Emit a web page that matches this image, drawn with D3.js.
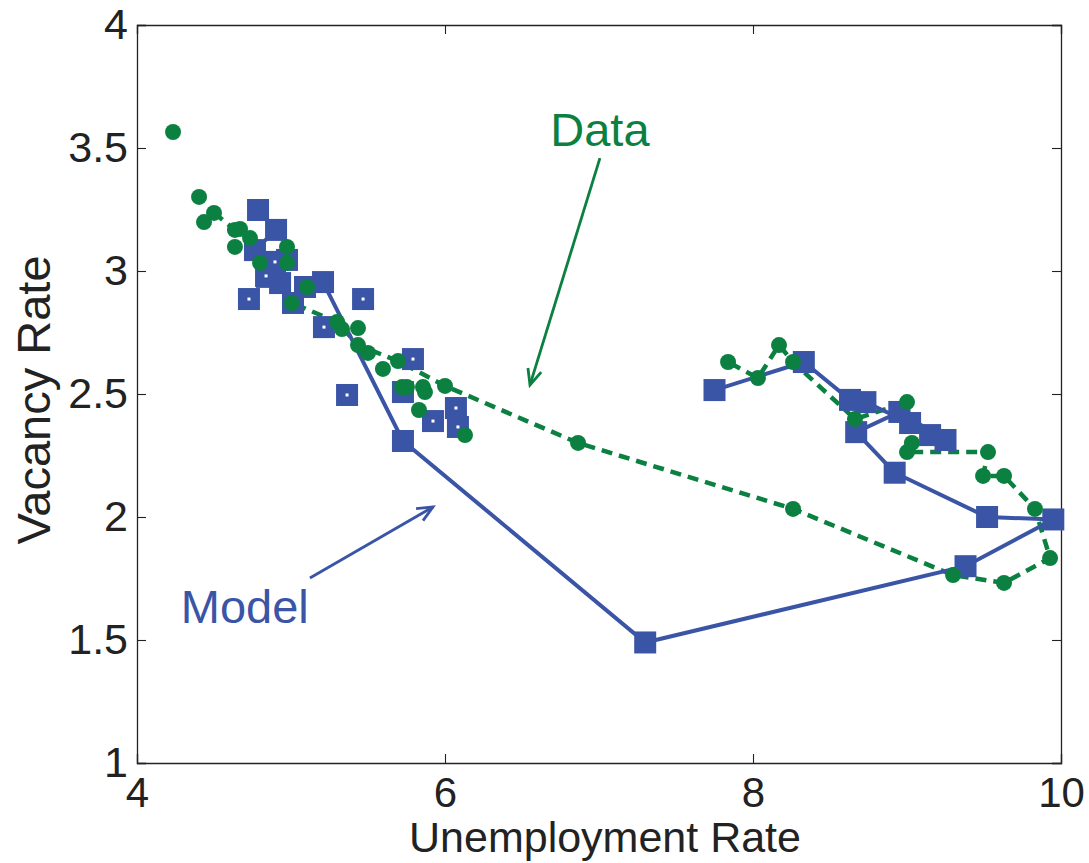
<!DOCTYPE html>
<html lang="en">
<head>
<meta charset="UTF-8">
<title>Vacancy vs Unemployment</title>
<script src="https://d3js.org/d3.v7.min.js"></script>
<style>
  body { margin: 0; background: #fff; }
  svg { font-family: "Liberation Sans", Arial, sans-serif; }
</style>
</head>
<body>
<script>
// data (unemployment, vacancy)
const modelPath = [
  [4.786, 3.248], [4.903, 3.167], [4.766, 3.085], [4.974, 3.045], [4.844, 2.976],
  [4.929, 2.951], [5.013, 2.870], [5.091, 2.935], [5.208, 2.955], [5.727, 2.309],
  [7.30, 1.490], [9.38, 1.800], [9.95, 1.990], [9.52, 2.000], [8.92, 2.180],
  [8.67, 2.345], [8.95, 2.427], [9.25, 2.313], [9.15, 2.333], [9.02, 2.382],
  [8.73, 2.467], [8.63, 2.476], [8.33, 2.630], [7.75, 2.516]
];
const modelLoose = [
  [4.727, 2.886], [5.468, 2.886], [5.214, 2.772], [5.364, 2.496], [5.792, 2.642],
  [5.922, 2.390], [6.071, 2.443], [6.084, 2.366], [5.727, 2.508], [4.896, 3.037],
  [4.838, 2.980]
];
const dataPath = [
  [4.500, 3.236], [4.636, 3.167], [4.734, 3.134], [4.799, 3.033], [5.006, 2.870],
  [5.299, 2.793], [5.435, 2.699], [5.695, 2.634], [6.000, 2.533], [6.864, 2.301],
  [8.260, 2.033], [9.299, 1.764], [9.630, 1.732], [9.929, 1.833], [9.831, 2.033],
  [9.630, 2.167], [9.494, 2.167], [9.526, 2.264], [9.000, 2.264], [9.032, 2.301],
  [9.000, 2.467], [8.662, 2.398], [8.260, 2.630], [8.169, 2.699], [8.032, 2.565],
  [7.838, 2.630]
];
const dataLoose = [
  [4.234, 3.565], [4.403, 3.301], [4.435, 3.199], [4.669, 3.171], [4.636, 3.098],
  [4.974, 3.098], [4.974, 3.033], [5.104, 2.935], [5.331, 2.764], [5.435, 2.768],
  [5.500, 2.667], [5.597, 2.602], [5.721, 2.528], [5.753, 2.528], [5.857, 2.528],
  [5.870, 2.508], [5.831, 2.435], [6.130, 2.333]
];
const xTicks = [4, 6, 8, 10];
const yTicks = [1, 1.5, 2, 2.5, 3, 3.5, 4];

const blue = "#3b55a6", green = "#0b8040";
const W = 1089, H = 863;
const margin = {top: 25, right: 28, bottom: 100, left: 137};

const svg = d3.select("body").append("svg").attr("width", W).attr("height", H);

const x = d3.scaleLinear().domain([4, 10]).range([margin.left, W - margin.right]);
const y = d3.scaleLinear().domain([1, 4]).range([H - margin.bottom, margin.top]);

// axes (ticks inside, box all round)
const tk = 9;
svg.append("g").attr("class", "xax").attr("transform", `translate(0,${y(1)})`)
  .call(d3.axisBottom(x).tickValues(xTicks).tickSize(-tk).tickPadding(14).tickFormat(d3.format("d")));
svg.append("g").attr("transform", `translate(0,${y(4)})`)
  .call(d3.axisTop(x).tickValues(xTicks).tickSize(-tk).tickFormat(""));
svg.append("g").attr("transform", `translate(${x(4)},0)`)
  .call(d3.axisLeft(y).tickValues(yTicks).tickSize(-tk).tickPadding(9).tickFormat(d => d3.format("")(d)));
svg.append("g").attr("transform", `translate(${x(10)},0)`)
  .call(d3.axisRight(y).tickValues(yTicks).tickSize(-tk).tickFormat(""));
svg.selectAll(".domain").attr("stroke", "#222").attr("stroke-width", 1.3);
svg.selectAll(".tick line").attr("stroke", "#222").attr("stroke-width", 1.1);
svg.selectAll(".tick text").attr("font-size", 43).attr("fill", "#222")
  .attr("font-family", "Liberation Sans, Arial, sans-serif");
svg.selectAll(".xax .tick text").attr("font-size", 42);

const line = d3.line().x(d => x(d[0])).y(d => y(d[1]));

// data series
svg.append("path").datum(dataPath).attr("d", line)
  .attr("fill", "none").attr("stroke", green).attr("stroke-width", 4.5)
  .attr("stroke-dasharray", "11,7");

// model series
svg.append("path").datum(modelPath).attr("d", line)
  .attr("fill", "none").attr("stroke", blue).attr("stroke-width", 4);

const sq = 22;
svg.append("g").selectAll("rect").data(modelLoose.concat(modelPath)).join("rect")
  .attr("x", d => x(d[0]) - sq / 2).attr("y", d => y(d[1]) - sq / 2)
  .attr("width", sq).attr("height", sq).attr("fill", blue);
svg.append("g").selectAll("rect").data(modelLoose).join("rect")
  .attr("x", d => x(d[0]) - 1.5).attr("y", d => y(d[1]) - 1.5)
  .attr("width", 3).attr("height", 3).attr("fill", "#fff");

svg.append("g").selectAll("circle").data(dataLoose.concat(dataPath)).join("circle")
  .attr("cx", d => x(d[0])).attr("cy", d => y(d[1])).attr("r", 8).attr("fill", green);

// annotations
function arrow(x1, y1, x2, y2, color) {
  const g = svg.append("g").attr("stroke", color).attr("stroke-width", 2.8).attr("fill", "none");
  g.append("line").attr("x1", x(x1)).attr("y1", y(y1)).attr("x2", x(x2)).attr("y2", y(y2));
  const a = Math.atan2(y(y2) - y(y1), x(x2) - x(x1)), L = 17, s = 0.42;
  const px = x(x2), py = y(y2);
  g.append("path").attr("d",
    `M${px - L * Math.cos(a - s)},${py - L * Math.sin(a - s)}L${px},${py}L${px - L * Math.cos(a + s)},${py - L * Math.sin(a + s)}`);
}
arrow(7.006, 3.459, 6.552, 2.537, green);
arrow(5.123, 1.752, 5.922, 2.041, blue);

svg.append("text").attr("x", x(7.006)).attr("y", y(3.51)).attr("text-anchor", "middle")
  .attr("font-size", 47).attr("fill", green).text("Data");
svg.append("text").attr("x", x(4.70)).attr("y", y(1.57)).attr("text-anchor", "middle")
  .attr("font-size", 47).attr("fill", blue).text("Model");

// axis titles
svg.append("text").attr("x", (x(4) + x(10)) / 2 + 6).attr("y", 852).attr("text-anchor", "middle")
  .attr("font-size", 43).attr("fill", "#222").text("Unemployment Rate");
svg.append("text").attr("transform", `translate(50,${(y(1) + y(4)) / 2 + 6}) rotate(-90)`)
  .attr("text-anchor", "middle").attr("font-size", 47).attr("fill", "#222").text("Vacancy Rate");
</script>
</body>
</html>
